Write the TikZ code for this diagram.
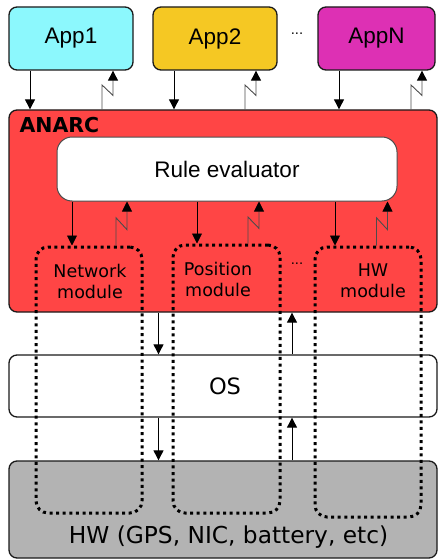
\documentclass[tikz,border=0pt]{standalone}
\usepackage{fontspec}
\setmainfont{DejaVu Sans}
\newfontfamily\arialfont{Liberation Sans}
\usetikzlibrary{arrows.meta,calc}
\definecolor{appcyan}{HTML}{8CF8FD}
\definecolor{appgold}{HTML}{F5C823}
\definecolor{appmag}{HTML}{DD30B4}
\definecolor{anarcred}{HTML}{FF4545}
\definecolor{hwgray}{HTML}{B3B3B3}
\definecolor{edge}{HTML}{1A1A1A}
\begin{document}
\begin{tikzpicture}[x=1pt,y=-1pt,
  box/.style={draw=edge,line width=1.3pt,rounded corners=8pt,inner sep=0pt},
  applabel/.style={font=\arialfont\fontsize{22.5}{26}\selectfont},
  bigtext/.style={font=\fontsize{22.5}{26}\selectfont},
  modtext/.style={font=\fontsize{17.5}{21}\selectfont,align=center},
  modbox/.style={draw=black,line width=3pt,dash pattern=on 3pt off 3.6pt,rounded corners=12pt,inner sep=0pt},
  flow/.style={draw=black,line width=0.9pt,-{Triangle[length=10pt,width=10pt]}},
  zigline/.style={draw=black!70,line width=0.9pt,-{Triangle[length=10pt,width=10pt,color=black]},line join=miter},
  dots/.style={font=\fontsize{13}{15}\selectfont}]
\useasboundingbox (0,0) rectangle (438,559);

% upward signalling arrow with a lightning kink: #1 = x, #2 = lower node, #3 = upper node
\newcommand\zigup[3]{%
  \draw[zigline] let \p1=(#2.north), \p2=(#3.south) in
    (#1pt,\y1) -- (#1pt,{\y1+0.63*(\y2-\y1)})
    -- ({(#1+11)*1pt},{\y1+0.36*(\y2-\y1)}) -- ({(#1+11)*1pt},\y2);}

% applications
\node[box,fill=appcyan,minimum width=124pt,minimum height=63pt,applabel] (app1) at (71,38.5) {App1};
\node[box,fill=appgold,minimum width=124pt,minimum height=63pt,applabel] (app2) at (215,38.5) {App2};
\node[box,fill=appmag,minimum width=117pt,minimum height=63pt,applabel] (appN) at (376.5,38.5) {AppN};
\node[dots] (appdots) at (297,34) {...};

% layers
\node[box,fill=anarcred,minimum width=428pt,minimum height=202pt] (anarc) at (223,211) {};
\node[anchor=base west,font=\bfseries\fontsize{20.5}{24}\selectfont] (anarclbl) at (16,132) {ANARC};
\node[draw=black!70,line width=1pt,fill=white,rounded corners=15pt,minimum width=340pt,minimum height=64pt,inner sep=0pt,applabel] (rule) at (227,169) {Rule evaluator};
\node[box,fill=white,minimum width=428pt,minimum height=62pt,bigtext] (os) at (223,386) {};
\node[bigtext] (oslbl) at (225,386) {OS};
\node[box,fill=hwgray,minimum width=428pt,minimum height=97pt] (hw) at (223,509.5) {};
\node[font=\fontsize{23.3}{27}\selectfont] (hwlbl) at (228.5,537) {HW (GPS, NIC, battery, etc)};

% modules reaching down through the stack
\node[modbox,minimum width=106pt,minimum height=266pt] (mnet) at (89,380) {};
\node[modbox,minimum width=107pt,minimum height=268pt] (mpos) at (226.5,379) {};
\node[modbox,minimum width=106pt,minimum height=270pt] (mhw) at (368,382) {};
\node[modtext] (netlbl) at (90,281) {Network\\module};
\node[modtext] (poslbl) at (218,279) {Position\\module};
\node[modtext] (hwmlbl) at (373,281) {HW\\module};
\node[dots] (moddots) at (297,264) {...};

% apps <-> ANARC
\draw[flow] (30,0 |- app1.south) -- (30,0 |- anarc.north);
\draw[flow] (174,0 |- app2.south) -- (174,0 |- anarc.north);
\draw[flow] (339,0 |- appN.south) -- (339,0 |- anarc.north);
\zigup{102}{anarc}{app1}
\zigup{245}{anarc}{app2}
\zigup{411}{anarc}{appN}

% rule evaluator <-> modules
\draw[flow] (72,0 |- rule.south) -- (72,0 |- mnet.north);
\draw[flow] (197,0 |- rule.south) -- (197,0 |- mpos.north);
\draw[flow] (335,0 |- rule.south) -- (335,0 |- mhw.north);
\zigup{116}{mnet}{rule}
\zigup{248}{mpos}{rule}
\zigup{376.5}{mhw}{rule}

% ANARC <-> OS <-> HW
\draw[flow] (158.5,0 |- anarc.south) -- (158.5,0 |- os.north);
\draw[flow] (158.5,0 |- os.south) -- (158.5,0 |- hw.north);
\draw[flow] (292,0 |- os.north) -- (292,0 |- anarc.south);
\draw[flow] (292,0 |- hw.north) -- (292,0 |- os.south);
\end{tikzpicture}
\end{document}
